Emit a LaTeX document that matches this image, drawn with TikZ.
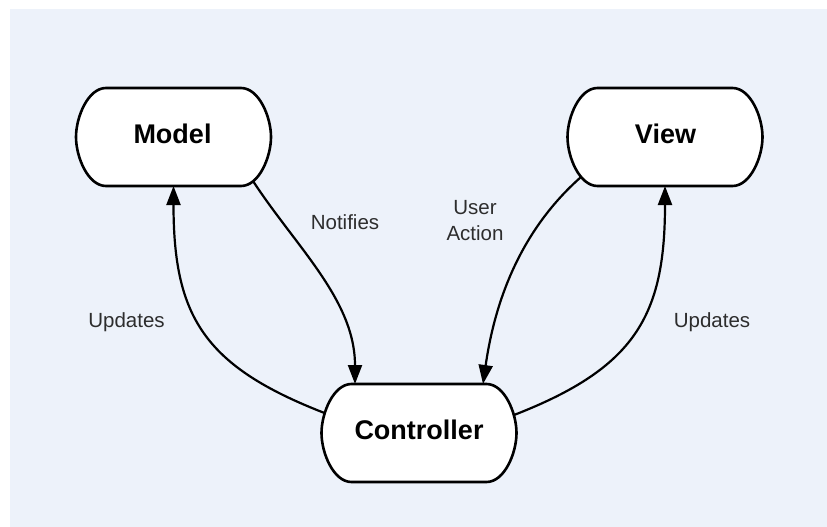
\documentclass[tikz,border=0pt]{standalone}
\usepackage{fontspec}
\setmainfont{Liberation Sans}
\usetikzlibrary{arrows.meta,calc}
\definecolor{canvas}{RGB}{237,242,250}
\definecolor{labelgray}{RGB}{45,45,45}
\begin{document}
\begin{tikzpicture}[x=1pt,y=-1pt,
  block/.style={minimum width=195pt,minimum height=98pt,inner sep=0pt,outer sep=0pt},
  frame/.style={draw=black,line width=2.6pt,fill=white,line join=round},
  title/.style={font=\fontsize{27}{32}\selectfont\bfseries,anchor=base,inner sep=0pt},
  tag/.style={font=\fontsize{20.5}{26}\selectfont,text=labelgray,inner sep=0pt,align=center},
  flow/.style={line width=2.2pt,-{Triangle[length=19pt,width=14pt]}}]

% page and canvas
\useasboundingbox (0,0) rectangle (827,527);
\fill[white] (0,0) rectangle (827,527);
\fill[canvas] (10,9) rectangle (827,527);

% the three components: pill-shaped boxes with rounded ends
\node[block] (M) at (173.5,137) {};
\node[block] (V) at (665,137) {};
\node[block] (C) at (419,433) {};
\foreach \n in {M,V,C}
  \draw[frame] ($(\n.north west)+(30,0)$) -- ($(\n.north east)+(-30,0)$)
    .. controls +(18,0) and +(0,-20) .. (\n.east)
    .. controls +(0,20) and +(18,0) .. ($(\n.south east)+(-30,0)$)
    -- ($(\n.south west)+(30,0)$)
    .. controls +(-18,0) and +(0,20) .. (\n.west)
    .. controls +(0,-20) and +(-18,0) .. ($(\n.north west)+(30,0)$) -- cycle;
\node[title] (mt) at ($(M.center)+(-1,6)$) {Model};
\node[title] (vt) at ($(V.center)+(0.5,6)$) {View};
\node[title] (ct) at ($(C.center)+(0,6)$) {Controller};

% connectors
\draw[flow] ($(C.west)+(3,-20)$) .. controls +(-121,-47) and +(0,130) .. (M.south);
\draw[flow] ($(M.south east)+(-18,-5)$) .. controls +(43,66) and +(0,-84) .. ($(C.north)+(-64,0)$);
\draw[flow] ($(V.south west)+(13.5,-9)$) .. controls +(-60,53) and +(12,-84) .. ($(C.north)+(64,0)$);
\draw[flow] ($(C.east)+(-2.5,-18)$) .. controls +(121,-47) and +(0,130) .. (V.south);

% connector labels
\node[tag,anchor=base] (notify) at (345,229) {Notifies};
\node[tag] (act) at (475,220.5) {User\\Action};
\node[tag,anchor=base] (updl) at (126.5,327) {Updates};
\node[tag,anchor=base] (updr) at (712,327) {Updates};
\end{tikzpicture}
\end{document}
